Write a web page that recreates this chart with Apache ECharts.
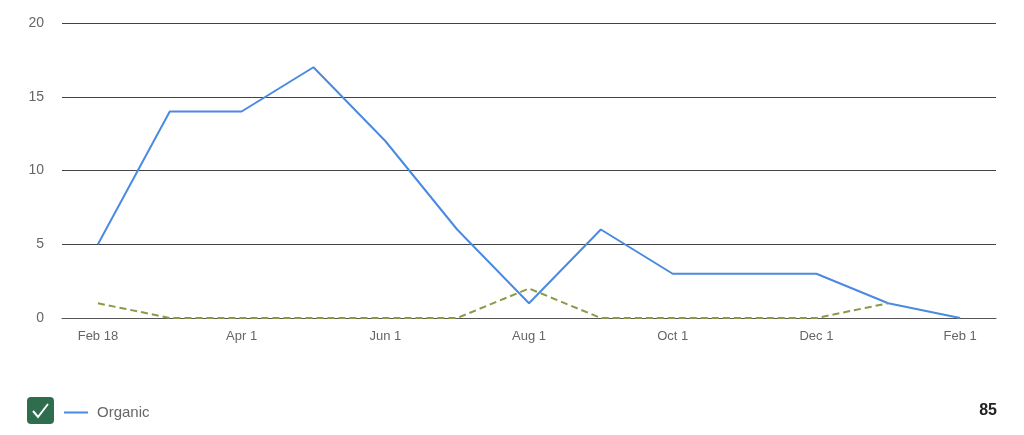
<!DOCTYPE html>
<html><head><meta charset="utf-8">
<script src="https://cdn.jsdelivr.net/npm/echarts@6/dist/echarts.min.js"></script>
<style>html,body{margin:0;padding:0;background:#fff}#c{width:1024px;height:435px}</style>
</head><body><div id="c"></div>
<script>
const categories = ['Feb 18','Mar 1','Apr 1','May 1','Jun 1','Jul 1','Aug 1','Sep 1','Oct 1','Nov 1','Dec 1','Jan 1','Feb 1'];
const organic = [5,14,14,17,12,6,1,6,3,3,3,1,0];
const previous = [1,0,0,0,0,0,2,0,0,0,0,1,null];
const yTicks = [0,5,10,15,20];
const total = '85';
const FONT = '"Liberation Sans", Arial, sans-serif';

const chart = echarts.init(document.getElementById('c'));
chart.setOption({
  animation:false,
  textStyle:{fontFamily:FONT},
  grid:{left:62,right:28,top:23,bottom:117,containLabel:false},
  xAxis:{type:'category',data:categories,boundaryGap:true,
    axisLine:{show:true,lineStyle:{color:'#555',width:1}},
    axisTick:{show:false},
    axisLabel:{interval:1,color:'#666',fontSize:13,margin:12},
    splitLine:{show:false}},
  yAxis:{type:'value',min:yTicks[0],max:yTicks[yTicks.length-1],interval:5,
    axisLine:{show:false},axisTick:{show:false},
    axisLabel:{color:'#666',fontSize:14,margin:18},
    splitLine:{lineStyle:{color:'#444',width:1}}},
  legend:{left:59,top:400,itemWidth:24,itemHeight:2,itemGap:10,
    data:[{name:'Organic',icon:'rect'}],
    textStyle:{color:'#666',fontSize:15,padding:[0,0,0,4]}},
  series:[
    {name:'Organic',type:'line',data:organic,symbol:'none',
      lineStyle:{color:'#4a8ae0',width:2},itemStyle:{color:'#4a8ae0'},z:2},
    {name:'Previous',type:'line',data:previous,symbol:'none',
      lineStyle:{color:'#8a9a45',width:2,type:[7,4]},itemStyle:{color:'#8a9a45'},z:3}
  ],
  graphic:[
    {type:'rect',shape:{x:27,y:397,width:27,height:27,r:4},style:{fill:'#2e6e4e'}},
    {type:'polyline',shape:{points:[[33,411],[38,417],[48,404]]},style:{stroke:'#fff',lineWidth:2,fill:null}},
    {type:'text',right:27,top:403,style:{text:total,font:'bold 16px "Liberation Sans", Arial, sans-serif',fill:'#222'}}
  ]
});
</script></body></html>
